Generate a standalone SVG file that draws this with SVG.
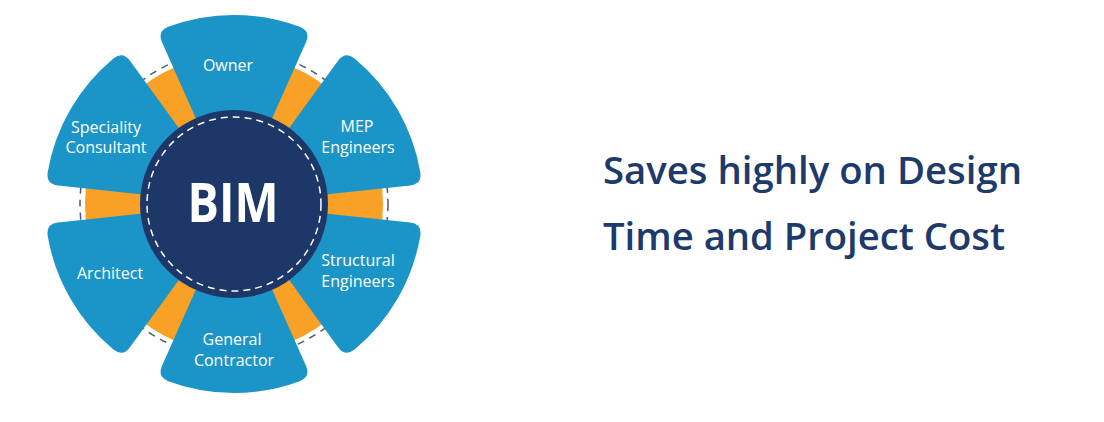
<svg xmlns="http://www.w3.org/2000/svg" xmlns:xlink="http://www.w3.org/1999/xlink" width="1104" height="422" viewBox="0 0 1104 422">
<style>
.petal{fill:#1b95c8}
.lbl{font-family:"Open Sans","Noto Sans",sans-serif;font-size:16px;fill:#ffffff;text-anchor:middle}
.title{font-family:"Open Sans","Noto Sans",sans-serif;font-size:38px;font-weight:600;fill:#1e3a6b}
</style>
<defs>
<path id="petal" d="M -32.54,-73.08 L -71.99,-161.70 Q -76.87,-172.66 -65.76,-177.19 A 189 189 0 0 1 65.76,-177.19 Q 76.87,-172.66 71.99,-161.70 L 32.54,-73.08 Z"/>
</defs>
<rect width="1104" height="422" fill="#ffffff"/>
<g id="connectors" transform="translate(234,204)">
<circle r="154" fill="none" stroke="#4f5a6c" stroke-width="1.5" stroke-dasharray="7 6"/>
<circle r="149" fill="#f8a126"/>
</g>
<g id="owner">
<use xlink:href="#petal" class="petal" transform="translate(234,204)"/>
<text class="lbl" x="228" y="71">Owner</text>
</g>
<g id="mep">
<use xlink:href="#petal" class="petal" transform="translate(234,204) rotate(60)"/>
<text class="lbl" x="357" y="132">MEP</text>
<text class="lbl" x="358" y="153">Engineers</text>
</g>
<g id="structural">
<use xlink:href="#petal" class="petal" transform="translate(234,204) rotate(120)"/>
<text class="lbl" x="358" y="266">Structural</text>
<text class="lbl" x="358" y="287">Engineers</text>
</g>
<g id="general-contractor">
<use xlink:href="#petal" class="petal" transform="translate(234,204) rotate(180)"/>
<text class="lbl" x="232" y="345">General</text>
<text class="lbl" x="234" y="366">Contractor</text>
</g>
<g id="architect">
<use xlink:href="#petal" class="petal" transform="translate(234,204) rotate(240)"/>
<text class="lbl" x="110" y="279">Architect</text>
</g>
<g id="speciality-consultant">
<use xlink:href="#petal" class="petal" transform="translate(234,204) rotate(300)"/>
<text class="lbl" x="106" y="133">Speciality</text>
<text class="lbl" x="106" y="153">Consultant</text>
</g>
<g id="bim">
<circle cx="234" cy="204" r="94" fill="#1c3768"/>
<circle cx="234" cy="204" r="87" fill="none" stroke="#ffffff" stroke-width="1.5" stroke-dasharray="7 5"/>
<text x="233" y="222" font-family="'Open Sans','Noto Sans',sans-serif" font-size="53" font-weight="700" fill="#ffffff" text-anchor="middle" textLength="91" lengthAdjust="spacingAndGlyphs">BIM</text>
</g>
<g id="headline">
<text class="title" x="603" y="184" textLength="419" lengthAdjust="spacingAndGlyphs">Saves highly on Design</text>
<text class="title" x="603" y="250" textLength="402" lengthAdjust="spacingAndGlyphs">Time and Project Cost</text>
</g>
</svg>
